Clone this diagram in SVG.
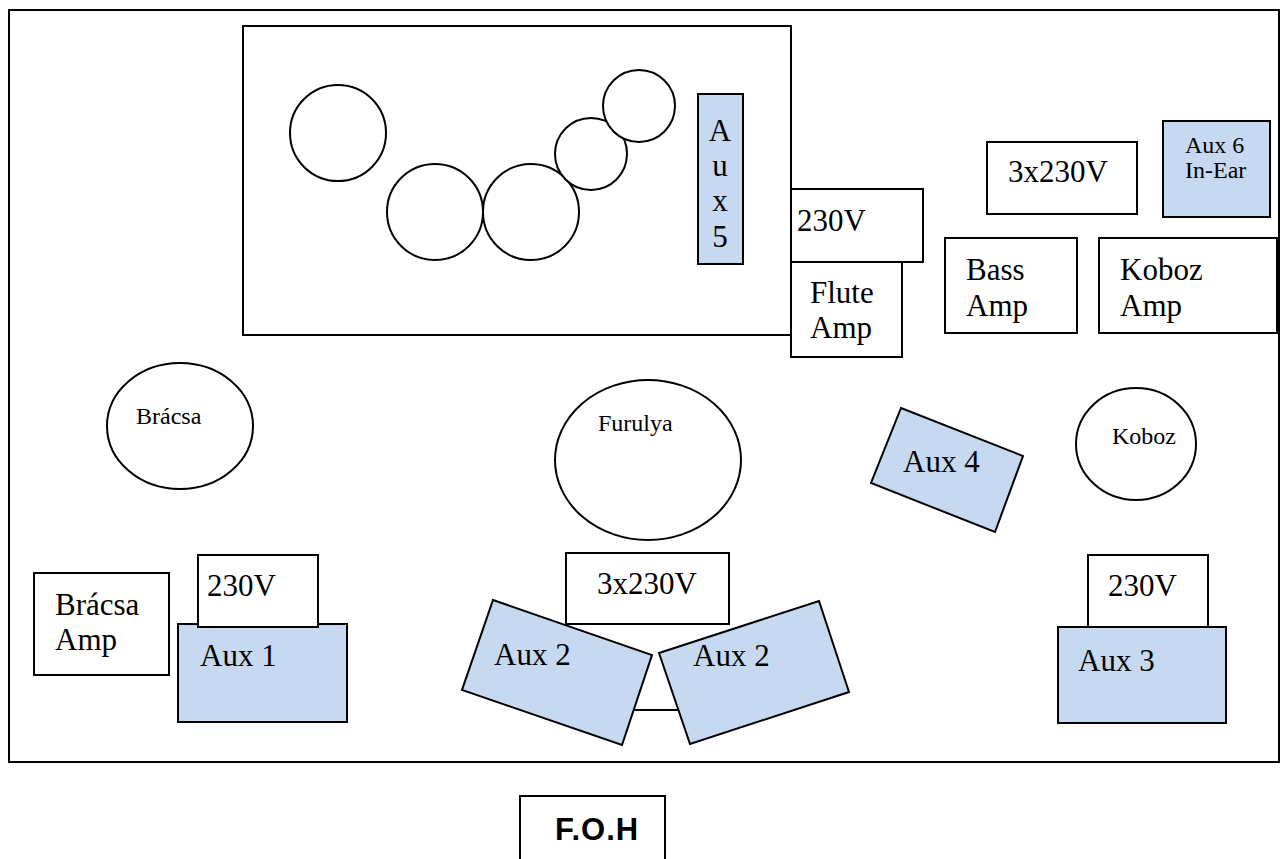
<svg xmlns="http://www.w3.org/2000/svg" width="1282" height="859" viewBox="0 0 1282 859">
<style>
.box{fill:#fff;stroke:#000;stroke-width:2}
.aux{fill:#c6d9f1;stroke:#000;stroke-width:2}
.ln{fill:none;stroke:#000;stroke-width:2}
.t{font-family:'Liberation Serif','DejaVu Serif',serif;font-size:31px;fill:#000}
.s{font-family:'Liberation Serif','DejaVu Serif',serif;font-size:24px;fill:#000}
.foh{font-family:'Liberation Sans','DejaVu Sans',sans-serif;font-size:31px;font-weight:bold;letter-spacing:1px;fill:#000}
</style>
<rect width="1282" height="859" fill="#fff"/>
<g id="stage"><rect class="ln" x="9" y="10" width="1270" height="752"/></g>
<g id="riser">
<rect class="box" x="243" y="26" width="548" height="309"/>
<circle class="box" cx="338" cy="133" r="48"/>
<circle class="box" cx="435" cy="212" r="48"/>
<circle class="box" cx="531" cy="212" r="48"/>
<circle class="box" cx="591" cy="154" r="36"/>
<circle class="box" cx="639" cy="106" r="36"/>
</g>
<g id="aux5"><rect class="aux" x="698" y="94" width="45" height="170"/>
<text class="t" text-anchor="middle"><tspan x="720" y="141">A</tspan><tspan x="720" y="176">u</tspan><tspan x="720" y="211">x</tspan><tspan x="720" y="247">5</tspan></text></g>
<g id="p230-flute"><rect class="box" x="791" y="189" width="132" height="73"/><text class="t" x="797" y="231">230V</text></g>
<g id="flute-amp"><rect class="box" x="791" y="262" width="111" height="95"/><text class="t" x="810" y="303">Flute</text><text class="t" x="810" y="338">Amp</text></g>
<g id="p3x230-top"><rect class="box" x="987" y="142" width="150" height="72"/><text class="t" x="1008" y="182">3x230V</text></g>
<g id="aux6"><rect class="aux" x="1163" y="121" width="107" height="96"/><text class="s" x="1185" y="153">Aux 6</text><text class="s" x="1185" y="178">In-Ear</text></g>
<g id="bass-amp"><rect class="box" x="945" y="238" width="132" height="95"/><text class="t" x="966" y="280">Bass</text><text class="t" x="966" y="316">Amp</text></g>
<g id="koboz-amp"><rect class="box" x="1099" y="238" width="178" height="95"/><text class="t" x="1120" y="280">Koboz</text><text class="t" x="1120" y="316">Amp</text></g>
<g id="bracsa"><ellipse class="box" cx="180" cy="426" rx="73" ry="63"/><text class="s" x="136" y="424">Brácsa</text></g>
<g id="furulya"><ellipse class="box" cx="648" cy="460" rx="93" ry="80"/><text class="s" x="598" y="431">Furulya</text></g>
<g id="koboz"><ellipse class="box" cx="1136" cy="444" rx="60" ry="56"/><text class="s" x="1112" y="444">Koboz</text></g>
<g id="aux4"><polygon class="aux" points="901,408 1023,456 995,532 871,483"/><text class="t" x="903" y="472">Aux 4</text></g>
<g id="bracsa-amp"><rect class="box" x="34" y="573" width="135" height="102"/><text class="t" x="55" y="615">Brácsa</text><text class="t" x="55" y="650">Amp</text></g>
<g id="aux1"><rect class="aux" x="178" y="624" width="169" height="98"/><text class="t" x="200" y="666">Aux 1</text></g>
<g id="p230-left"><rect class="box" x="198" y="555" width="120" height="72"/><text class="t" x="207" y="596">230V</text></g>
<g id="p3x230-center"><rect class="box" x="566" y="553" width="163" height="71"/><text class="t" x="597" y="594">3x230V</text></g>
<g id="connectors"><line class="ln" x1="620" y1="710" x2="700" y2="710"/></g>
<g id="aux2-left"><polygon class="aux" points="493,600 652,655 622,745 462,690"/><text class="t" x="494" y="665">Aux 2</text></g>
<g id="aux2-right"><polygon class="aux" points="659,653 819,601 849,692 690,744"/><text class="t" x="693" y="666">Aux 2</text></g>
<g id="aux3"><rect class="aux" x="1058" y="627" width="168" height="96"/><text class="t" x="1078" y="671">Aux 3</text></g>
<g id="p230-right"><rect class="box" x="1088" y="555" width="120" height="72"/><text class="t" x="1108" y="596">230V</text></g>
<g id="foh"><path class="ln" d="M520,859 V796 H665 V859"/><text class="foh" x="555" y="840">F.O.H</text></g>
</svg>
